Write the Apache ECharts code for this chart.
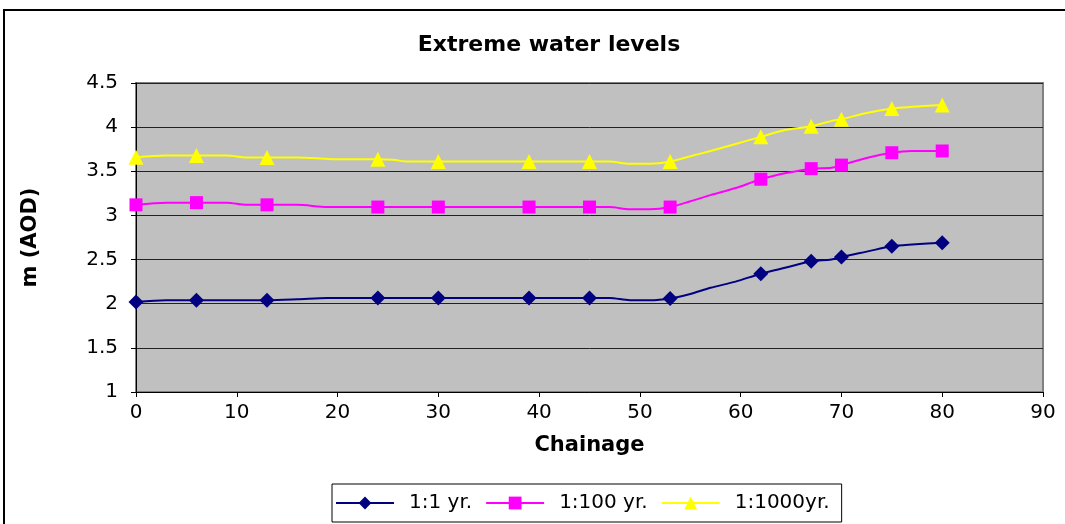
<!DOCTYPE html>
<html>
<head>
<meta charset="utf-8">
<script src="https://cdn.jsdelivr.net/npm/echarts@6/dist/echarts.min.js"></script>
<style>
html,body{margin:0;padding:0;background:#fff;}
#chart{width:1065px;height:524px;}
</style>
</head>
<body>
<div id="chart"></div>
<script>
// Chainage values along the line (markers shown only at surveyed points)
var chainage = [0,3,6,9,11,13,16,19,21,24,25.5,27,30,39,45,47,49,51,53,55,57,59.5,62,64.5,67,69,70,72.5,75,77,80];
var markerChainage = [0,6,13,24,30,39,45,53,62,67,70,75,80];
var levels1yr    = [2.02,2.04,2.04,2.04,2.04,2.04,2.05,2.065,2.065,2.065,2.065,2.065,2.065,2.065,2.065,2.065,2.04,2.04,2.06,2.11,2.18,2.25,2.34,2.41,2.48,2.50,2.53,2.59,2.65,2.67,2.69];
var levels100yr  = [3.12,3.145,3.145,3.145,3.12,3.12,3.12,3.095,3.095,3.095,3.095,3.095,3.095,3.095,3.095,3.095,3.07,3.07,3.095,3.16,3.23,3.31,3.41,3.48,3.53,3.54,3.57,3.65,3.71,3.73,3.73];
var levels1000yr = [3.66,3.68,3.68,3.68,3.655,3.655,3.655,3.64,3.635,3.635,3.63,3.61,3.61,3.61,3.61,3.61,3.585,3.585,3.61,3.67,3.73,3.81,3.89,3.97,4.01,4.07,4.09,4.16,4.21,4.23,4.25];
var seriesNames = ['1:1 yr.','1:100 yr.','1:1000yr.'];
var xTicks = {min:0,max:90,interval:10};
var yTicks = {min:1,max:4.5,interval:0.5};

var FONT = 'DejaVu Sans';

function buildData(vals){
  return chainage.map(function(x,i){
    var item = {value:[x, vals[i]]};
    if (markerChainage.indexOf(x) < 0) item.symbol = 'none';
    return item;
  });
}

var chart = echarts.init(document.getElementById('chart'), null, {renderer:'canvas'});
chart.setOption({
  animation:false,
  backgroundColor:'#ffffff',
  textStyle:{fontFamily:FONT},
  graphic:[{
    type:'rect', z:-10, silent:true,
    shape:{x:4,y:10,width:1100,height:600},
    style:{fill:'none',stroke:'#000',lineWidth:2}
  }],
  title:{
    text:'Extreme water levels',
    left:544, top:29, textAlign:'center',
    textStyle:{fontFamily:FONT,fontWeight:'bold',fontSize:22,color:'#000'}
  },
  grid:{
    left:136, top:83, right:22, bottom:132,
    show:true, backgroundColor:'#C0C0C0', borderColor:'#808080', borderWidth:2
  },
  legend:{
    data:seriesNames,
    left:332, top:484,
    orient:'horizontal',
    backgroundColor:'#fff', borderColor:'#000', borderWidth:1,
    padding:[9,12,9,3],
    itemWidth:58, itemHeight:16, itemGap:13,
    textStyle:{fontFamily:FONT,fontSize:20,color:'#000',padding:[0,0,0,10]}
  },
  xAxis:{
    type:'value', min:xTicks.min, max:xTicks.max, interval:xTicks.interval,
    name:'Chainage', nameLocation:'middle', nameGap:43,
    nameTextStyle:{fontFamily:FONT,fontWeight:'bold',fontSize:21,color:'#000'},
    axisLine:{show:true,onZero:false,lineStyle:{color:'#000',width:1}},
    axisTick:{show:true,inside:false,length:5,lineStyle:{color:'#000'}},
    axisLabel:{fontFamily:FONT,fontSize:20,color:'#000',margin:11},
    splitLine:{show:false}
  },
  yAxis:{
    type:'value', min:yTicks.min, max:yTicks.max, interval:yTicks.interval,
    name:'m (AOD)', nameLocation:'middle', nameGap:95,
    nameTextStyle:{fontFamily:FONT,fontWeight:'bold',fontSize:21,color:'#000'},
    axisLine:{show:true,lineStyle:{color:'#000',width:1}},
    axisTick:{show:true,inside:false,length:5,lineStyle:{color:'#000'}},
    axisLabel:{fontFamily:FONT,fontSize:20,color:'#000',margin:18},
    splitLine:{show:true,lineStyle:{color:'#222',width:1}}
  },
  series:[
    {name:seriesNames[0], type:'line', data:buildData(levels1yr), smooth:0.3,
     symbol:'diamond', symbolSize:15, showAllSymbol:true,
     itemStyle:{color:'#000080'}, lineStyle:{color:'#000080',width:2}},
    {name:seriesNames[1], type:'line', data:buildData(levels100yr), smooth:0.3,
     symbol:'rect', symbolSize:13, showAllSymbol:true,
     itemStyle:{color:'#FF00FF'}, lineStyle:{color:'#FF00FF',width:2}},
    {name:seriesNames[2], type:'line', data:buildData(levels1000yr), smooth:0.3,
     symbol:'triangle', symbolSize:15, showAllSymbol:true,
     itemStyle:{color:'#FFFF00'}, lineStyle:{color:'#FFFF00',width:2}}
  ]
});
</script>
</body>
</html>
